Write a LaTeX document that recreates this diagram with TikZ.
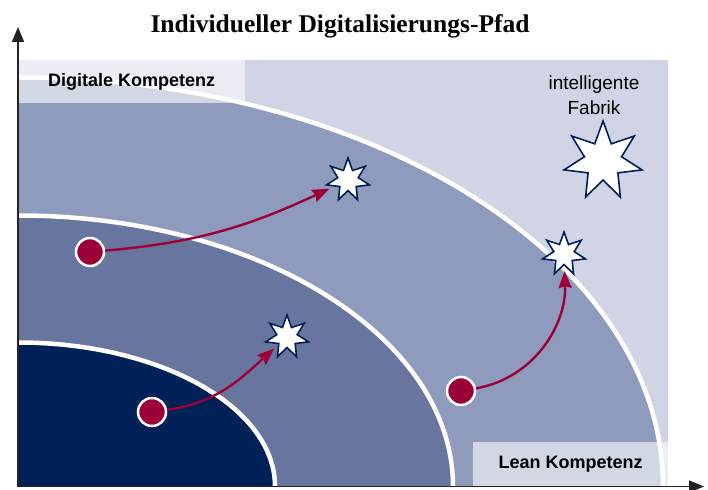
\documentclass[tikz,border=0pt]{standalone}
\usepackage{fontspec}
\setmainfont{Liberation Serif}
\setsansfont{Liberation Sans}
\usetikzlibrary{arrows.meta,shapes.geometric}

\definecolor{kern}{RGB}{0,33,87}
\definecolor{band1}{RGB}{104,118,159}
\definecolor{band2}{RGB}{143,155,189}
\definecolor{aussen}{RGB}{208,212,228}
\definecolor{pfeil}{RGB}{155,0,55}
\definecolor{achsfarbe}{RGB}{35,35,38}

\tikzset{
  punkt/.style={circle, fill=pfeil, draw=white, line width=2.5pt,
    minimum size=28pt, inner sep=0pt},
  stern/.style={star, star points=7, star point ratio=2.1, fill=white,
    draw=kern, line width=1.6pt, minimum size=44pt, inner sep=0pt},
  pfad/.style={draw=pfeil, line width=2.4pt, shorten >=5pt,
    -{Stealth[length=17pt,width=13pt,inset=2pt]}},
  grenze/.style={draw=white, line width=4.5pt},
  feld/.style={fill=white, fill opacity=0.6, text opacity=1,
    inner sep=0pt, font=\sffamily\bfseries\fontsize{18}{20}\selectfont},
  achse/.style={draw=achsfarbe, line width=1.5pt,
    -{Triangle[length=15pt,width=12pt]}}
}

\begin{document}
\begin{tikzpicture}[x=1pt,y=1pt]
  \useasboundingbox (0,0) rectangle (708,489);
  % Kompetenz-Zonen
  \begin{scope}
    \clip (18,2.5) rectangle (668,429);
    \fill[aussen] (18,2.5) rectangle (668,429);
    \filldraw[fill=band2, grenze] (18,2.5) ellipse [x radius=645, y radius=409];
    \filldraw[fill=band1, grenze] (18,2.5) ellipse [x radius=435, y radius=271];
    \filldraw[fill=kern, grenze] (18,2.5) ellipse [x radius=257, y radius=144];
  \end{scope}

  \node[feld, minimum width=227pt, minimum height=43pt, anchor=north west]
    (digital) at (18,429) {Digitale Kompetenz};
  \node[feld, minimum width=195pt, minimum height=44.5pt, anchor=south west]
    (lean) at (473,2.5) {Lean Kompetenz};

  \node[font=\bfseries\fontsize{25.5}{30}\selectfont, anchor=base]
    (titel) at (340,456) {Individueller Digitalisierungs-Pfad};
  \node[align=center, font=\sffamily\fontsize{19}{25}\selectfont]
    (fabriktext) at (594,394) {intelligente\\Fabrik};

  % Achsen
  \coordinate (nullpunkt) at (18,2.5);
  \coordinate (yspitze) at (18,462);
  \coordinate (xspitze) at (704,2.5);
  \draw[achse] (nullpunkt) -- (yspitze);
  \draw[achse] (nullpunkt) -- (xspitze);

  % Ziele und Startpunkte
  \node[stern, minimum size=80pt] (fabrik) at (603,328) {};
  \node[stern] (s1) at (348,309) {};
  \node[stern] (s2) at (287,152) {};
  \node[stern] (s3) at (564,235) {};
  \node[punkt] (p1) at (90,237) {};
  \node[punkt] (p2) at (152,77) {};
  \node[punkt] (p3) at (461,98) {};

  \draw[pfad] (p1) to[out=5,in=205] (s1);
  \draw[pfad] (p2) to[out=8,in=222] (s2);
  \draw[pfad] (p3) to[out=10,in=-88] (s3);
\end{tikzpicture}
\end{document}
